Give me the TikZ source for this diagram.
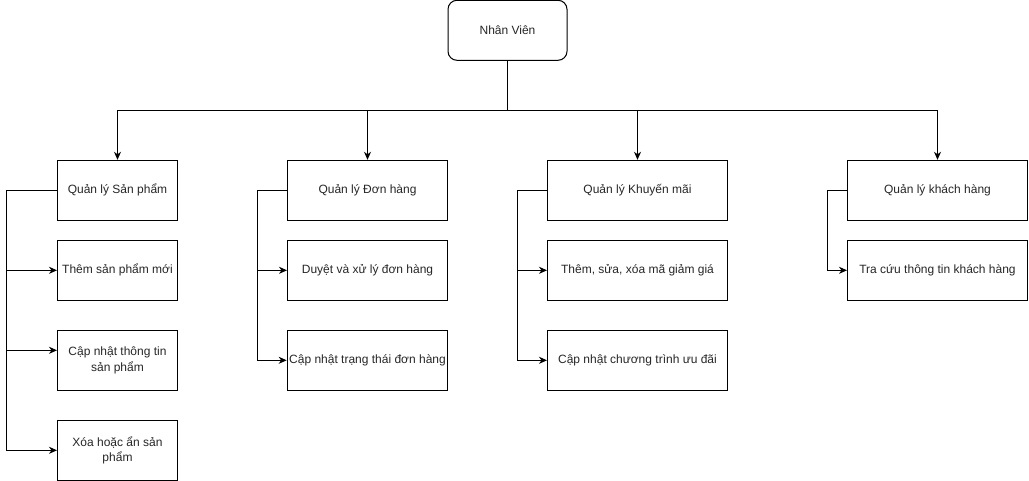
\documentclass[tikz,border=0pt]{standalone}
\usepackage{fontspec}
\setmainfont{Liberation Sans}
\usetikzlibrary{arrows.meta}
\tikzset{
  box/.style={draw, line width=1pt, minimum height=60pt, inner sep=2pt, align=center, font=\fontsize{12}{15.5}\selectfont, text=black!85},
  arr/.style={line width=1pt, -{Stealth[length=8pt,width=7pt,inset=2.5pt]}},
  ln/.style={line width=1pt}
}
\begin{document}
\begin{tikzpicture}[x=1pt,y=-1pt]
\useasboundingbox (0,0) rectangle (1029,481);
\node[box, rounded corners=9pt, minimum width=119pt] (nv) at (507.5,30.3) {Nhân Viên};
\coordinate (bus) at (507.5,110.3);
% column 1
\node[box, minimum width=120pt] (a1) at (117.5,190.3) {Quản lý Sản phẩm};
\node[box, minimum width=120pt] (a2) at (117.5,270.3) {Thêm sản phẩm mới};
\node[box, minimum width=120pt] (a3) at (117.5,360.3) {Cập nhật thông tin\\sản phẩm};
\node[box, minimum width=120pt] (a4) at (117.5,450.3) {Xóa hoặc ẩn sản\\phẩm};
% column 2
\node[box, minimum width=160pt] (b1) at (367.5,190.3) {Quản lý Đơn hàng};
\node[box, minimum width=160pt] (b2) at (367.5,270.3) {Duyệt và xử lý đơn hàng};
\node[box, minimum width=160pt] (b3) at (367.5,360.3) {Cập nhật trạng thái đơn hàng};
% column 3
\node[box, minimum width=180pt] (c1) at (637.5,190.3) {Quản lý Khuyến mãi};
\node[box, minimum width=180pt] (c2) at (637.5,270.3) {Thêm, sửa, xóa mã giảm giá};
\node[box, minimum width=180pt] (c3) at (637.5,360.3) {Cập nhật chương trình ưu đãi};
% column 4
\node[box, minimum width=180pt] (d1) at (937.5,190.3) {Quản lý khách hàng};
\node[box, minimum width=180pt] (d2) at (937.5,270.3) {Tra cứu thông tin khách hàng};
% top connectors
\draw[ln] (nv.south) -- (bus);
\draw[arr] (bus) -| (a1.north);
\draw[arr] (bus) -| (b1.north);
\draw[arr] (bus) -| (c1.north);
\draw[arr] (bus) -| (d1.north);
% column 1 rails
\draw[arr] (a1.west) -- ++(-50.5,0) |- (a2.west);
\draw[arr] (a1.west) -- ++(-50.5,0) |- ([yshift=10pt]a3.west);
\draw[arr] (a1.west) -- ++(-50.5,0) |- (a4.west);
% column 2 rails
\draw[arr] (b1.west) -- ++(-30,0) |- (b2.west);
\draw[arr] (b1.west) -- ++(-30,0) |- (b3.west);
% column 3 rails
\draw[arr] (c1.west) -- ++(-30,0) |- (c2.west);
\draw[arr] (c1.west) -- ++(-30,0) |- (c3.west);
% column 4 rails
\draw[arr] (d1.west) -- ++(-20,0) |- (d2.west);
\end{tikzpicture}
\end{document}
